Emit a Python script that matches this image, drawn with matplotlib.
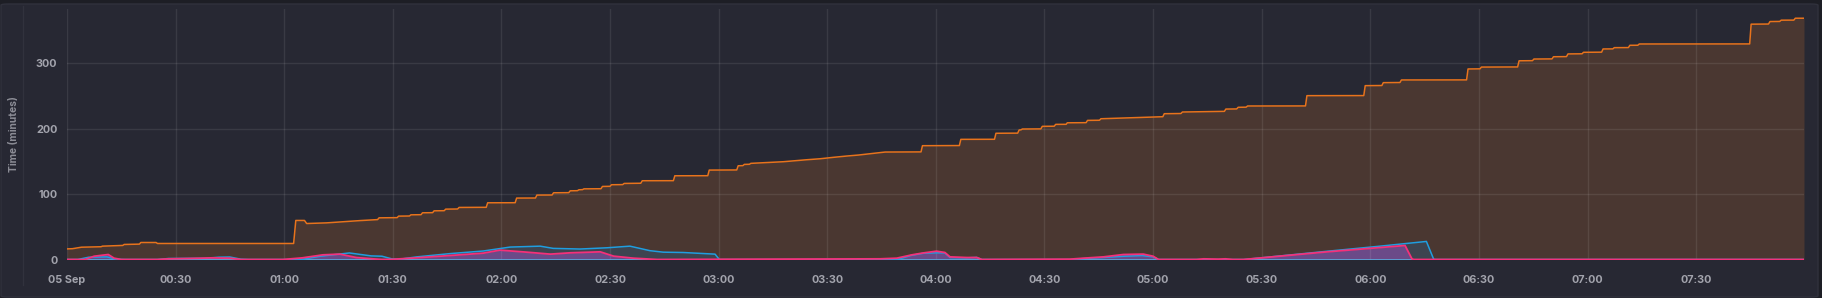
import matplotlib
matplotlib.use("Agg")
import matplotlib.pyplot as plt
from matplotlib.patches import FancyBboxPatch
from matplotlib.lines import Line2D
import numpy as np

# ---- data (minutes after 05 Sep 00:00, value in minutes) ----
total_t = [0, 1.5, 4, 9.4, 9.8, 15.4, 15.8, 20, 20.4, 24.6, 25, 62.6, 63.2, 65.6, 66.2, 71.7, 81,
           85.8, 86.2, 91.2, 91.6, 94.6, 95, 97.8, 98.2, 101, 101.4, 104.2, 104.6, 107.9, 108.3,
           115.8, 116.2, 123.8, 124.2, 129.4, 129.8, 134, 134.4, 138.6, 139, 141, 141.4, 142.4,
           142.8, 147.5, 147.9, 150, 150.4, 153.5, 153.9, 158.5, 158.9, 167.5, 167.9, 177, 177.4,
           185, 185.4, 186.7, 187.1, 188.5, 188.9, 197.9, 204.3, 208, 211.7, 215.4, 218.6, 222.7,
           226, 235.9, 236.3, 246.5, 246.9, 256.2, 256.6, 262.6, 263, 263.5, 263.9, 269, 269.4,
           272.7, 273.1, 276, 276.3, 281.5, 281.9, 285.2, 285.6, 302.7, 303.1, 307.7, 308.1, 319.7,
           320.1, 323.1, 323.5, 325.7, 326.1, 342.1, 342.5, 358.2, 358.6, 363.2, 363.6, 368.2,
           368.6, 386.6, 387, 390.3, 390.7, 400.7, 401.1, 404.8, 405.2, 410.2, 410.6, 414.2, 414.6,
           418.5, 418.9, 423.9, 424.3, 427, 427.4, 431.3, 431.7, 433.9, 434.3, 464.8, 465.2, 470,
           470.4, 473.1, 473.5, 477, 477.4, 479.8]
total_v = [16.2, 16.5, 18.8, 19.5, 20.4, 21.5, 23, 23.5, 26, 26, 24.5, 24.5, 59.7, 59.7, 55, 56, 59.5,
           61, 63.7, 64, 66.3, 66.5, 68.3, 68.5, 71.4, 71.6, 74.4, 74.6, 77, 77.2, 79.6,
           79.8, 86.7, 86.8, 93.9, 94, 98.5, 98.6, 102, 102.2, 105, 105.2, 106.6, 106.8,
           108, 108.2, 111.7, 111.9, 114.3, 114.5, 116.3, 116.6, 120.4, 120.5, 128, 128.1, 136.7,
           136.9, 143.3, 143.5, 145.4, 145.6, 147, 149.5, 152.5, 154, 156.2, 158.2, 159.7, 162.3,
           164.3, 164.5, 174, 174.2, 183.7, 183.8, 193, 193.2, 198, 198.2, 199.5, 199.7, 203.6,
           203.8, 206.6, 206.7, 209, 209.2, 212.7, 212.9, 215.2, 218.3, 222.9, 223.2, 225.5, 226.5,
           230, 230.2, 232.7, 232.9, 234.7, 234.8, 250.5, 250.6, 265.8, 266, 270.4, 270.6,
           274.5, 274.6, 291.3, 291.5, 294.2, 294.4, 303.8, 304, 306.5, 306.7, 310, 310.2, 314.3,
           314.5, 316.8, 317, 321.9, 322, 323.9, 324, 327.5, 327.6, 329.5, 329.6, 359.8, 360,
           363.8, 364, 365.9, 366, 368.9, 368.9]

blue_t = [0, 3, 6, 11, 13.5, 16, 25, 28, 38, 42, 45, 48, 50, 62, 65.3, 70, 78, 84, 87, 89.7, 92,
          96.6, 105.8, 115, 122.4, 130.7, 134.3, 141.7, 149.1, 155.5, 161, 164.7, 170.2, 179,
          180.2, 228, 230, 233, 236.5, 240.2, 242.5, 243.9, 248.5, 251.3, 252.7, 277, 281, 286,
          292, 297, 300, 301.5, 325, 327, 347, 362, 375.5, 377.5, 378, 480]
blue_v = [0, 0, 3.5, 4, 0.5, 0, 0, 1.5, 1.8, 3.5, 3.8, 0.5, 0, 0, 0.5, 5, 10, 5.5, 5, 1, 0.5,
          4, 9, 13, 19, 20.4, 17, 16, 17.9, 20.4, 13.5, 11.2, 10.7, 8.2,
          0, 0, 1, 6, 9.5, 10.2, 10, 3, 2.5, 3.2, 0, 0, 1.5, 3,
          5, 6, 4, 0, 0, 1, 12, 20, 27.6, 0.5, 0, 0]

pink_t = [0, 5, 7.5, 11.4, 13, 15, 25, 28, 33, 37, 40, 45, 48, 59.7, 65, 70.7, 75.4, 79.9, 84.5,
          87, 90, 96.6, 105.8, 115, 119.6, 127, 133.5, 139, 147.3, 151, 156.5, 163, 224.6, 229.2,
          233.3, 236.5, 240.2, 242.5, 243.9, 248.5, 251.3, 252.7, 277, 280.8, 286.3, 291.8, 297.3,
          300, 301.5, 312, 314, 318, 320, 322, 325, 327, 347, 369.6, 371.5, 372, 480]
pink_v = [0, 0, 5, 7.6, 2, 0, 0, 1, 1.5, 2, 2.5, 2, 0, 0, 2.5, 7.1, 8.2, 3, 1,
          0, 0.3, 2.6, 6.1, 9.7, 14.3, 11.2, 8.2, 10.2, 11.7, 5.1, 2, 0, 1, 2,
          7, 10, 12.7, 10.7, 4, 3, 3, 0, 0.5, 2, 4, 7.6, 8.2,
          5, 0, 0, 1, 0.5, 1, 0, 0, 1, 11.2, 21.4, 1, 0, 0]

idle_t = [0, 480]
idle_v = [0, 0]

tick_minutes = list(range(0, 480, 30))
tick_labels = ["05 Sep", "00:30", "01:00", "01:30", "02:00", "02:30", "03:00", "03:30",
               "04:00", "04:30", "05:00", "05:30", "06:00", "06:30", "07:00", "07:30"]
y_ticks = [0, 100, 200, 300]

# ---- style ----
BG = "#272833"
TXT = "#a2a3ac"
W, H = 1822, 298
fig = plt.figure(figsize=(W / 100, H / 100), dpi=100)
fig.patch.set_facecolor("#1d1e25")
panel = FancyBboxPatch((1 / W, 1 / H), (W - 5) / W, (H - 5) / H,
                       boxstyle="round,pad=0,rounding_size=0.004",
                       transform=fig.transFigure, facecolor=BG,
                       edgecolor="#30313c", linewidth=1.0, zorder=-2)
fig.patches.append(panel)
fig.lines.append(Line2D([23 / W, 23 / W], [1 - 6 / H, 1 - 285 / H],
                        transform=fig.transFigure, color="#31323d", lw=1.0, zorder=-1))

left, right = 67 / W, 1804 / W
bottom, top = 1 - 259.5 / H, 1 - 9 / H
ax = fig.add_axes([left, bottom, right - left, top - bottom])
ax.set_facecolor("none")
for s in ax.spines.values():
    s.set_visible(False)

ax.set_xlim(0, 479.8)
ax.set_ylim(0, 383)

# fills
ax.fill_between(total_t, 0, total_v, color="#4a3731", lw=0, zorder=1)
ax.fill_between(blue_t, 0, blue_v, color="#3d4450", lw=0, zorder=1.1)
ax.fill_between(pink_t, 0, pink_v, color="#6b4a88", lw=0, zorder=1.2)

# grid above fills
ax.set_axisbelow(False)
ax.grid(True, color="#ffffff", alpha=0.085, lw=1.0)

ax.plot(total_t, total_v, color="#e8731c", lw=1.1, zorder=3)
ax.plot(idle_t, idle_v, color="#5aa9dc", lw=1.2, zorder=3)
ax.plot(blue_t, blue_v, color="#1f9ee0", lw=1.1, zorder=3.1)
ax.plot(pink_t, pink_v, color="#f5307a", lw=1.3, zorder=3.2)

ax.set_xticks(tick_minutes)
ax.set_xticklabels(tick_labels)
ax.set_yticks(y_ticks)
ax.tick_params(axis="both", length=0, colors=TXT, labelsize=7.8)
ax.tick_params(axis="x", pad=11)
ax.tick_params(axis="y", pad=7)
for lab in ax.get_xticklabels() + ax.get_yticklabels():
    lab.set_fontfamily("Inter")
    lab.set_fontweight("bold")

ax.set_ylabel("Time (minutes)", color="#8c8d96", fontsize=7.4, fontweight="bold",
              fontfamily="Inter")
ax.yaxis.set_label_coords((18.5 - 67) / (1804 - 67), 0.5)

fig.savefig("out.png", dpi=100, facecolor=fig.get_facecolor())
